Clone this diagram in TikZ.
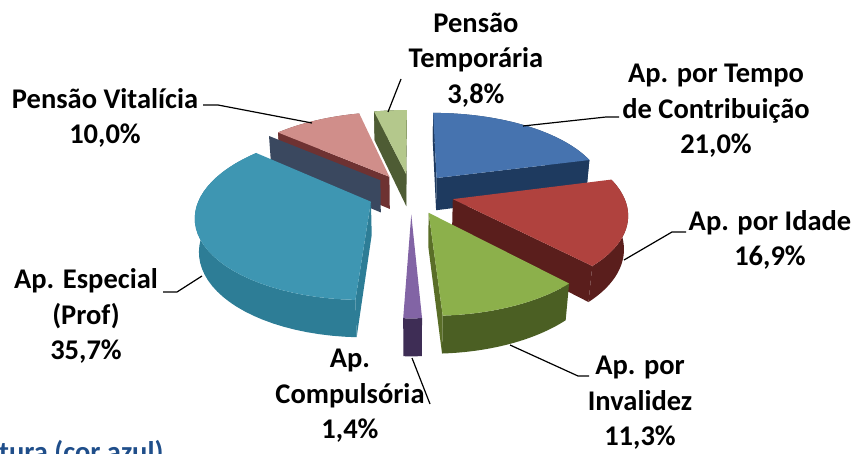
\documentclass[tikz,border=0pt]{standalone}
\usepackage{fontspec}
\setmainfont{Carlito}
\usetikzlibrary{positioning}

\definecolor{tempotop}{HTML}{4673AF}
\definecolor{temposide}{HTML}{1E3A5F}
\definecolor{idadetop}{HTML}{B0423E}
\definecolor{idadeside}{HTML}{5A1E1C}
\definecolor{invtop}{HTML}{8CB04B}
\definecolor{invside}{HTML}{4B5F23}
\definecolor{invface}{HTML}{5A6E28}
\definecolor{comptop}{HTML}{8264A5}
\definecolor{compside}{HTML}{3E2D55}
\definecolor{espectop}{HTML}{3E96B2}
\definecolor{especside}{HTML}{2D7D96}
\definecolor{vitatop}{HTML}{D08E8A}
\definecolor{vitaface}{HTML}{6E3232}
\definecolor{vitanavy}{HTML}{3A485F}
\definecolor{lgtop}{HTML}{B4C88C}
\definecolor{lgface}{HTML}{4E5C34}
\definecolor{azul}{HTML}{1F4E8A}

% pie geometry (screen pixels)
\def\pcx{411}\def\pcy{193.5}\def\pD{950}\def\sa{0.47}\def\ca{0.8827}
\def\pieR{170}\def\pieT{38}\def\ex{43}

\begin{document}
\begin{tikzpicture}[x=1pt,y=-1pt,
  declare function={
    pw(\zz,\hh)=\pD/(\pD+\zz*\ca-\hh*\sa);
    sx(\ang,\rad,\hgt,\md)=\pcx+(\ex*sin(\md)+\rad*sin(\ang))*pw(\ex*cos(\md)+\rad*cos(\ang),\hgt);
    sy(\ang,\rad,\hgt,\md)=\pcy-((\ex*cos(\md)+\rad*cos(\ang))*\sa+\hgt*\ca)*pw(\ex*cos(\md)+\rad*cos(\ang),\hgt);
  }]
\tikzstyle{lbl}=[font=\bfseries\fontsize{28.5}{35.5}\selectfont, align=center, text=black, inner sep=0pt]
\tikzstyle{leader}=[draw=black, line width=1.2pt]

\useasboundingbox (0,0) rectangle (854,454);
\clip (0,0) rectangle (854,454);

% slices, back to front: start/end/top/rim/cut face 1/cut face 2/shadow
\foreach \a/\b/\ctop/\cside/\cfa/\cfb/\cfs in {
  346.7/360/lgtop/lgface/lgface/lgface/none,
  0/75.6/tempotop/temposide/temposide/temposide/none,
  310.7/346.7/vitatop/vitaface/vitaface/none/vitanavy,
  182.2/310.7/espectop/especside/especside/none/none,
  75.6/136.4/idadetop/idadeside/none/idadeside/none,
  136.4/177.1/invtop/invside/none/invface/none,
  177.1/182.2/comptop/compside/none/none/none}{
  \pgfmathsetmacro\md{(\a+\b)/2}
  \fill[\cside] plot[domain=\a:\b,samples=36] ({sx(\x,\pieR,0,\md)},{sy(\x,\pieR,0,\md)})
    -- plot[domain=\b:\a,samples=36] ({sx(\x,\pieR,-\pieT,\md)},{sy(\x,\pieR,-\pieT,\md)}) -- cycle;
  \fill[fill=\cfa] ({sx(\a,0,0,\md)},{sy(\a,0,0,\md)}) -- ({sx(\a,\pieR,0,\md)},{sy(\a,\pieR,0,\md)})
    -- ({sx(\a,\pieR,-\pieT,\md)},{sy(\a,\pieR,-\pieT,\md)}) -- ({sx(\a,0,-\pieT,\md)},{sy(\a,0,-\pieT,\md)}) -- cycle;
  \fill[fill=\cfs,shift={(-9,3.5)}] ({sx(\a,0,0,\md)},{sy(\a,0,0,\md)}) -- ({sx(\a,\pieR,0,\md)},{sy(\a,\pieR,0,\md)})
    -- ({sx(\a,\pieR,-\pieT,\md)},{sy(\a,\pieR,-\pieT,\md)}) -- ({sx(\a,0,-\pieT,\md)},{sy(\a,0,-\pieT,\md)}) -- cycle;
  \fill[fill=\cfb] ({sx(\b,0,0,\md)},{sy(\b,0,0,\md)}) -- ({sx(\b,\pieR,0,\md)},{sy(\b,\pieR,0,\md)})
    -- ({sx(\b,\pieR,-\pieT,\md)},{sy(\b,\pieR,-\pieT,\md)}) -- ({sx(\b,0,-\pieT,\md)},{sy(\b,0,-\pieT,\md)}) -- cycle;
  \fill[\ctop] ({sx(\a,0,0,\md)},{sy(\a,0,0,\md)})
    -- plot[domain=\a:\b,samples=36] ({sx(\x,\pieR,0,\md)},{sy(\x,\pieR,0,\md)}) -- cycle;
}

% labels
\node[lbl] (tempo)      at (716,111) {Ap. por Tempo\\de Contribuição\\21,0\%};
\node[lbl] (idade)      at (770,240) {Ap. por Idade\\16,9\%};
\node[lbl] (invalidez)  at (640,403) {Ap. por\\Invalidez\\11,3\%};
\node[lbl] (compuls)    at (350,396) {Ap.\\Compulsória\\1,4\%};
\node[lbl] (especial)   at (86,316)  {Ap. Especial\\(Prof)\\35,7\%};
\node[lbl] (vitalicia)  at (105,118) {Pensão Vitalícia\\10,0\%};
\node[lbl] (temporaria) at (476,60)  {Pensão\\Temporária\\3,8\%};
\node[lbl,text=azul,anchor=base west] (legenda) at (-1,461) {tura (cor azul)};

% leader lines
\coordinate (tempoPt) at (523,126);  \coordinate (tempoKnee) at (606,117);  \coordinate (tempoEnd) at (619,117);
\coordinate (idadePt) at (624,260);  \coordinate (idadeKnee) at (672,232);  \coordinate (idadeEnd) at (686,232);
\coordinate (invPt) at (510,345);    \coordinate (invKnee) at (578,376);    \coordinate (invEnd) at (589,376);
\coordinate (compPt) at (412,358);   \coordinate (compEnd) at (430,404);
\coordinate (espPt) at (202,276);    \coordinate (espKnee) at (177,292);    \coordinate (espEnd) at (163,292);
\coordinate (vitPt) at (312,123);    \coordinate (vitKnee) at (218,105);    \coordinate (vitEnd) at (203,105);
\coordinate (tempPt) at (388,112);   \coordinate (tempEnd) at (401,79);

\draw[leader] (tempoPt) -- (tempoKnee) -- (tempoEnd);
\draw[leader] (idadePt) -- (idadeKnee) -- (idadeEnd);
\draw[leader] (invPt) -- (invKnee) -- (invEnd);
\draw[leader] (compPt) -- (compEnd);
\draw[leader] (espPt) -- (espKnee) -- (espEnd);
\draw[leader] (vitPt) -- (vitKnee) -- (vitEnd);
\draw[leader] (tempPt) -- (tempEnd);
\end{tikzpicture}
\end{document}
